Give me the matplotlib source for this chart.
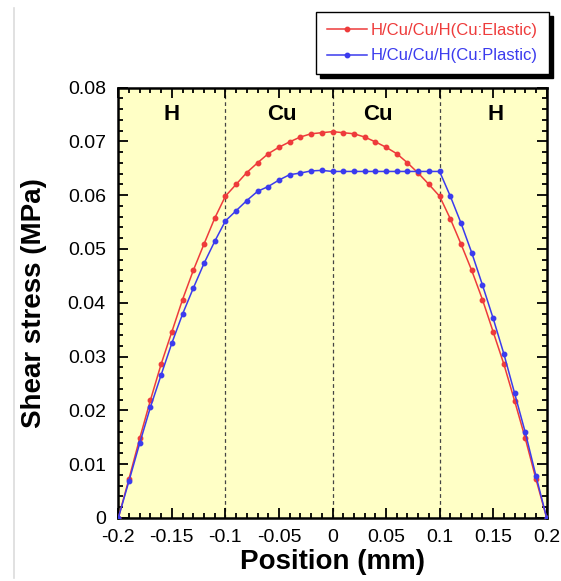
import matplotlib
matplotlib.use("Agg")
import matplotlib.pyplot as plt
from matplotlib.lines import Line2D
from matplotlib.ticker import MultipleLocator, FixedLocator
import numpy as np

plt.rcParams['font.family'] = ['Liberation Sans', 'DejaVu Sans']

# Data
position = [round(-0.2 + 0.01 * i, 2) for i in range(41)]
elastic = [0.0, 0.0073, 0.0148, 0.0219, 0.0286, 0.0346, 0.0406, 0.0460, 0.0509, 0.0557,
           0.0598, 0.0620, 0.0642, 0.0660, 0.0677, 0.0689, 0.0699, 0.0708, 0.0714, 0.0716,
           0.0718,
           0.0716, 0.0714, 0.0708, 0.0699, 0.0689, 0.0677, 0.0660, 0.0641, 0.0620, 0.0598,
           0.0556, 0.0509, 0.0460, 0.0406, 0.0346, 0.0286, 0.0218, 0.0148, 0.0072, 0.0]
plastic = [0.0, 0.0069, 0.0139, 0.0206, 0.0266, 0.0325, 0.0379, 0.0427, 0.0473, 0.0514,
           0.0552, 0.0571, 0.0590, 0.0607, 0.0616, 0.0628, 0.0638, 0.0641, 0.0645, 0.0646,
           0.0644,
           0.0644, 0.0644, 0.0644, 0.0644, 0.0644, 0.0644, 0.0644, 0.0644, 0.0644, 0.0644,
           0.0598, 0.0548, 0.0493, 0.0433, 0.0371, 0.0305, 0.0232, 0.0159, 0.0078, 0.0]
layer_bounds = [-0.1, 0.0, 0.1]
layer_names = ['H', 'Cu', 'Cu', 'H']
layer_label_x = [-0.15, -0.047, 0.042, 0.152]
series_names = ['H/Cu/Cu/H(Cu:Elastic)', 'H/Cu/Cu/H(Cu:Plastic)']
xticks = [-0.2, -0.15, -0.1, -0.05, 0, 0.05, 0.1, 0.15, 0.2]
xticklabels = ['-0.2', '-0.15', '-0.1', '-0.05', '0', '0.05', '0.1', '0.15', '0.2']
yticks = [0, 0.01, 0.02, 0.03, 0.04, 0.05, 0.06, 0.07, 0.08]
yticklabels = ['0', '0.01', '0.02', '0.03', '0.04', '0.05', '0.06', '0.07', '0.08']

red = '#ee3b3b'
blue = '#3b3bee'

fig = plt.figure(figsize=(5.61, 5.81), dpi=100)
ax = fig.add_axes([118.3 / 561, (581 - 518) / 581, (546.7 - 118.3) / 561, (518 - 87.5) / 581])
ax.set_facecolor('#ffffc6')

for b in layer_bounds:
    ax.axvline(b, color='#444444', linestyle=(0, (3, 2.5)), linewidth=0.9, zorder=1)

l1, = ax.plot(position, elastic, color=red, marker='o', markersize=3.2, linewidth=1.1, zorder=3)
l2, = ax.plot(position, plastic, color=blue, marker='o', markersize=3.2, linewidth=1.1, zorder=3)

for xl, name in zip(layer_label_x, layer_names):
    ax.text(xl, 0.0749, name, ha='center', va='center', fontsize=16, fontweight='bold', color='black')

ax.set_xlim(-0.2, 0.2)
ax.set_ylim(0, 0.08)
ax.xaxis.set_major_locator(FixedLocator(xticks))
ax.set_xticklabels(xticklabels)
ax.yaxis.set_major_locator(FixedLocator(yticks))
ax.set_yticklabels(yticklabels)
ax.xaxis.set_minor_locator(MultipleLocator(0.01))
ax.yaxis.set_minor_locator(MultipleLocator(0.002))
ax.tick_params(which='both', direction='in', top=True, right=True, width=1.3, colors='black')
ax.tick_params(which='major', length=7, labelsize=14)
ax.tick_params(which='minor', length=3.5)
ax.tick_params(axis='x', which='major', pad=8)
ax.tick_params(axis='y', which='major', pad=9)
for s in ax.spines.values():
    s.set_linewidth(1.8)

ax.set_xlabel('Position (mm)', fontsize=20, fontweight='bold', labelpad=2)
ax.set_ylabel('Shear stress (MPa)', fontsize=20, fontweight='bold', labelpad=15)

leg = fig.legend([l1, l2], series_names, loc='upper left',
                 bbox_to_anchor=(316 / 561, 1 - 11.7 / 581), borderaxespad=0, frameon=True,
                 fancybox=False, shadow={'color': 'black', 'alpha': 1, 'ox': 3, 'oy': -3},
                 fontsize=12, handlelength=2.4, borderpad=0.65, labelspacing=0.65,
                 handletextpad=0.25, edgecolor='black')
leg.get_frame().set_linewidth(1.0)
for txt, col in zip(leg.get_texts(), [red, blue]):
    txt.set_color(col)

fig.add_artist(Line2D([14 / 561, 14 / 561], [3 / 581, 573 / 581], color='#dcdcdc', linewidth=1.2))

fig.savefig('out.png', dpi=100)
